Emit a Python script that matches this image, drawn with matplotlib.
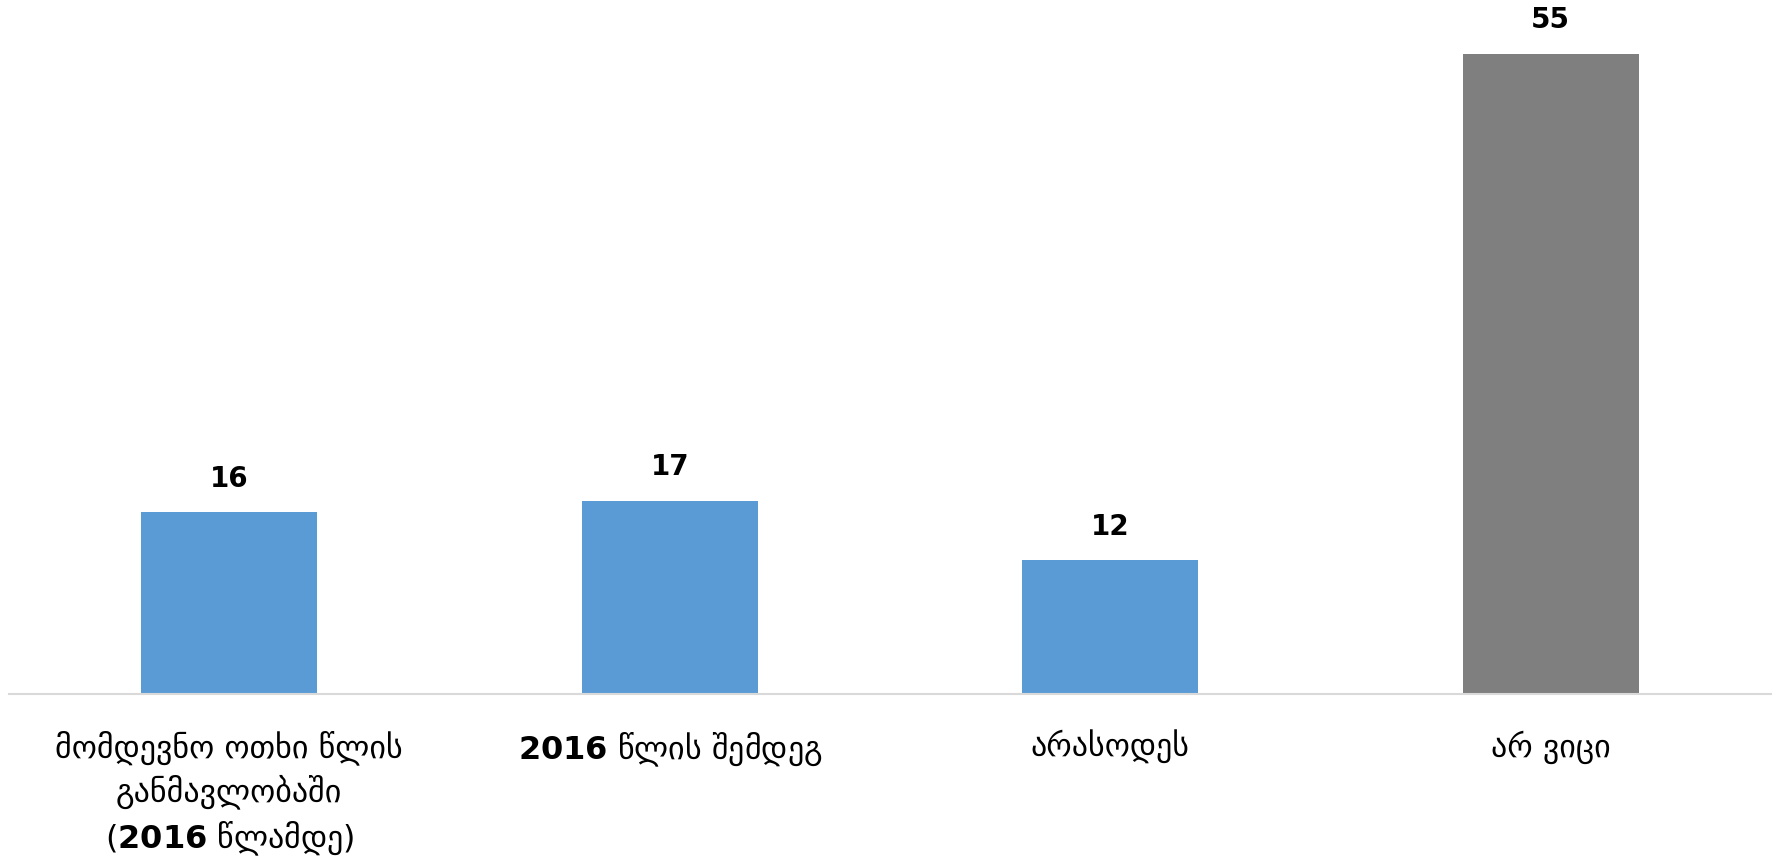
import matplotlib

matplotlib.use("Agg")
import matplotlib.pyplot as plt

categories = [
    "მომდევნო ოთხი წლის\nგანმავლობაში\n($\\mathbf{2016}$ წლამდე)",
    "$\\mathbf{2016}$ წლის შემდეგ",
    "არასოდეს",
    "არ ვიცი",
]
values = [15.6, 16.6, 11.5, 55.0]
colors = ["#5B9BD5", "#5B9BD5", "#5B9BD5", "#7F7F7F"]

plt.rcParams["font.family"] = ["DejaVu Sans"]
plt.rcParams["mathtext.fontset"] = "dejavusans"

W, H = 1777, 866
fig = plt.figure(figsize=(W / 100, H / 100), dpi=100)
ax = fig.add_axes([9 / W, (H - 694) / H, (1771 - 9) / W, (694 - 19) / H])

x = list(range(len(values)))
bars = ax.bar(x, values, width=0.4, color=colors, zorder=2)
for b, v in zip(bars, values):
    ax.annotate(f"{round(v)}", (b.get_x() + b.get_width() / 2, v), xytext=(0, 14),
                textcoords="offset points", ha="center", va="bottom",
                fontsize=20, fontweight="bold", color="black")

ax.set_xlim(-0.5, len(values) - 0.5)
ax.set_ylim(0, 58)
ax.set_xticks(x)
ax.set_xticklabels(categories, fontsize=23, linespacing=1.35)
ax.tick_params(axis="x", length=0, pad=26)
ax.set_yticks([])
for s in ["top", "left", "right"]:
    ax.spines[s].set_visible(False)
ax.spines["bottom"].set_color("#D9D9D9")
ax.spines["bottom"].set_linewidth(1.5)

fig.savefig("out.png", dpi=100)
